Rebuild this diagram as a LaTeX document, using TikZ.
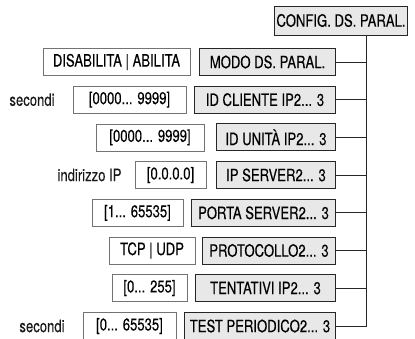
\documentclass[tikz,border=0pt]{standalone}
\usepackage{fontspec}
\setmainfont{TeX Gyre Heros}[FakeStretch=0.77,FakeBold=0.25]
\begin{document}
\begin{tikzpicture}[x=1pt,y=-1pt,
  every node/.style={font=\fontsize{17}{19}\selectfont, inner sep=0pt},
  menubox/.style={draw=black!85, line width=1pt, fill=black!9, minimum height=27pt, anchor=east},
  valbox/.style={draw=black!55, line width=0.8pt, fill=white, minimum height=27pt},
  lbl/.style={text=black!90},
  conn/.style={draw=black!85, line width=1pt}]
\useasboundingbox (0,0) rectangle (415,338);
\coordinate (trunk) at (366,0);
% top node
\node[menubox, minimum width=133pt, minimum height=29pt] (config) at (408,20.5) {CONFIG. DS. PARAL.};
% menu boxes
\node[menubox, minimum width=136pt] (modo) at (336,62) {MODO DS. PARAL.};
\node[menubox, minimum width=141pt] (cliente) at (336,99.7) {ID CLIENTE IP2... 3};
\node[menubox, minimum width=119pt] (unita) at (336,137.4) {ID UNITÀ IP2... 3};
\node[menubox, minimum width=119pt] (ipserver) at (336,175) {IP SERVER2... 3};
\node[menubox, minimum width=144pt] (porta) at (336,212.8) {PORTA SERVER2... 3};
\node[menubox, minimum width=133pt] (proto) at (336,250.5) {PROTOCOLLO2... 3};
\node[menubox, minimum width=140pt] (tent) at (336,288) {TENTATIVI IP2... 3};
\node[menubox, minimum width=151pt] (test) at (336,326) {TEST PERIODICO2... 3};
% value boxes
\node[valbox, minimum width=147pt] (v1) at (116.5,62) {DISABILITA | ABILITA};
\node[valbox, minimum width=113pt] (v2) at (129.5,99.7) {[0000... 9999]};
\node[valbox, minimum width=108pt] (v3) at (150,137.4) {[0000... 9999]};
\node[valbox, minimum width=71pt] (v4) at (170.5,175) {[0.0.0.0]};
\node[valbox, minimum width=91pt] (v5) at (137.5,212.8) {[1... 65535]};
\node[valbox, minimum width=86pt] (v6) at (152,250.5) {TCP | UDP};
\node[valbox, minimum width=75pt] (v7) at (149.5,288) {[0... 255]};
\node[valbox, minimum width=93pt] (v8) at (129.5,326) {[0... 65535]};
% labels
\node[lbl] (l2) at (32,99.7) {secondi};
\node[lbl] (l4) at (89.5,175) {indirizzo IP};
\node[lbl] (l8) at (42,326) {secondi};
% connectors
\draw[conn] (config.south -| trunk) |- (test.east);
\foreach \n in {modo,cliente,unita,ipserver,porta,proto,tent}
  \draw[conn] (\n.east) -- (\n.east -| trunk);
\end{tikzpicture}
\end{document}
